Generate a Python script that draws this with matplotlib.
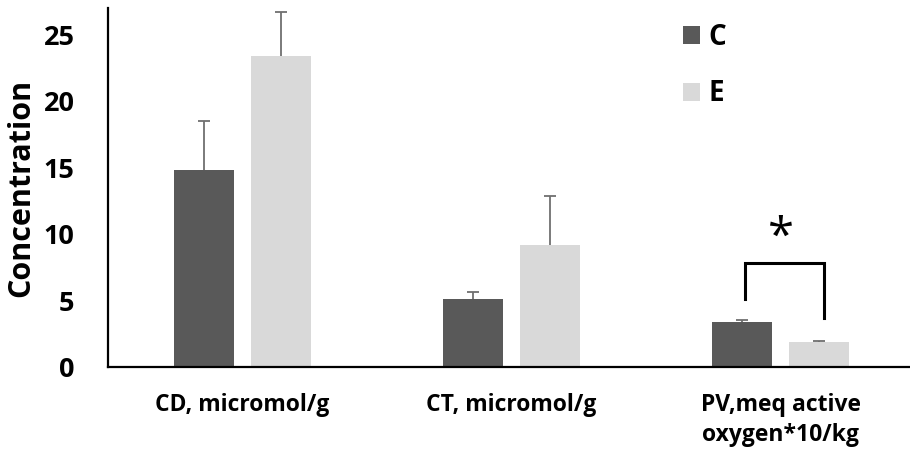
import matplotlib

matplotlib.use("Agg")
import matplotlib.pyplot as plt  # noqa: E402
import numpy as np  # noqa: E402

categories = ["CD, micromol/g", "CT, micromol/g", "PV,meq active\noxygen*10/kg"]
series = ["C", "E"]
c_values = [14.83, 5.08, 3.40]
c_errors = [3.67, 0.57, 0.13]
e_values = [23.43, 9.20, 1.90]
e_errors = [3.27, 3.63, 0.08]
y_ticks = [0, 5, 10, 15, 20, 25]

DARK = "#595959"
LIGHT = "#d9d9d9"
ERR = "#6f6f6f"
FONT = "Open Sans"

plt.rcParams["font.family"] = [FONT, "DejaVu Sans"]
plt.rcParams["font.weight"] = "bold"

fig = plt.figure(figsize=(9.1, 4.54), dpi=100)
ax = fig.add_axes([0.1187, 0.1916, 0.8868, 0.7907])

x = np.arange(len(categories))
w = 0.223
off = 0.143
err_kw = dict(ecolor=ERR, elinewidth=1.3, capsize=4.3, capthick=1.3)
ax.bar(x - off, c_values, w, color=DARK, label=series[0], zorder=2)
ax.bar(x + off, e_values, w, color=LIGHT, label=series[1], zorder=2)
for pos, vals, errs in [(x - off, c_values, c_errors), (x + off, e_values, e_errors)]:
    eb = ax.errorbar(pos, vals, yerr=[np.zeros(3), errs], fmt="none", zorder=1, **err_kw)
    eb[1][0].set_visible(False)  # hide the lower cap sitting on the bar top

# significance bracket on PV
i = 2
ax.plot([i - off + 0.01, i - off + 0.01, i + off + 0.02, i + off + 0.02],
        [5.1, 7.8, 7.8, 3.68], color="black", lw=2.2, solid_joinstyle="miter")
ax.text(i, 9.7, "*", ha="center", va="center", fontsize=34, fontweight="normal")

ax.set_xlim(-0.5, 2.5)
ax.set_ylim(0, 27)
ax.set_yticks(y_ticks)
ax.set_xticks(x)
ax.set_xticklabels(categories, fontsize=16.5, fontweight="bold", linespacing=1.3)
ax.tick_params(axis="y", length=0, pad=24, labelsize=19.5)
ax.tick_params(axis="x", length=0, pad=19)
for s in ["top", "right"]:
    ax.spines[s].set_visible(False)
for s in ["left", "bottom"]:
    ax.spines[s].set_linewidth(1.6)
ax.set_ylabel("Concentration", fontsize=22, fontweight="bold", labelpad=5)

ax.legend(loc="upper left", bbox_to_anchor=(0.75, 0.95), bbox_transform=fig.transFigure,
          frameon=False, fontsize=20, handlelength=0.62, handleheight=0.62,
          handletextpad=0.3, labelspacing=1.0, borderpad=0, borderaxespad=0)

fig.savefig("out.png", dpi=100)
